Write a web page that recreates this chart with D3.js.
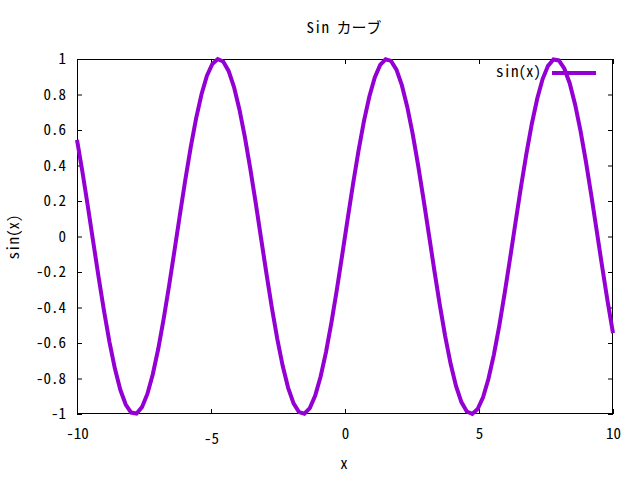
<!DOCTYPE html>
<html><head><meta charset="utf-8">
<script src="https://cdn.jsdelivr.net/npm/d3@7"></script>
<style>
html,body{margin:0;padding:0;background:#fff;}
text{font-family:"Noto Sans Mono CJK JP","Noto Sans CJK JP","DejaVu Sans Mono",monospace;font-size:15px;fill:#000;}
</style></head>
<body>
<svg id="c" width="640" height="480"></svg>
<script>
const xValues = [-10.0000,-9.7980,-9.5960,-9.3939,-9.1919,-8.9899,-8.7879,-8.5859,-8.3838,-8.1818,
-7.9798,-7.7778,-7.5758,-7.3737,-7.1717,-6.9697,-6.7677,-6.5657,-6.3636,-6.1616,
-5.9596,-5.7576,-5.5556,-5.3535,-5.1515,-4.9495,-4.7475,-4.5455,-4.3434,-4.1414,
-3.9394,-3.7374,-3.5354,-3.3333,-3.1313,-2.9293,-2.7273,-2.5253,-2.3232,-2.1212,
-1.9192,-1.7172,-1.5152,-1.3131,-1.1111,-0.9091,-0.7071,-0.5051,-0.3030,-0.1010,
0.1010,0.3030,0.5051,0.7071,0.9091,1.1111,1.3131,1.5152,1.7172,1.9192,
2.1212,2.3232,2.5253,2.7273,2.9293,3.1313,3.3333,3.5354,3.7374,3.9394,
4.1414,4.3434,4.5455,4.7475,4.9495,5.1515,5.3535,5.5556,5.7576,5.9596,
6.1616,6.3636,6.5657,6.7677,6.9697,7.1717,7.3737,7.5758,7.7778,7.9798,
8.1818,8.3838,8.5859,8.7879,8.9899,9.1919,9.3939,9.5960,9.7980,10.0000];
const sinValues = [0.5440,0.3646,0.1703,-0.0308,-0.2308,-0.4213,-0.5946,-0.7440,-0.8636,-0.9467,
-0.9921,-0.9971,-0.9615,-0.8868,-0.7762,-0.6339,-0.4658,-0.2787,-0.0804,0.1213,
0.3180,0.5018,0.6653,0.8016,0.9055,0.9720,0.9994,0.9861,0.9328,0.8415,
0.7159,0.5610,0.3836,0.1906,-0.0103,-0.2107,-0.4026,-0.5782,-0.7300,-0.8526,
-0.9399,-0.9892,-0.9984,-0.9670,-0.8960,-0.7890,-0.6497,-0.4839,-0.2984,-0.1008,
0.1008,0.2984,0.4839,0.6497,0.7890,0.8960,0.9670,0.9984,0.9892,0.9399,
0.8526,0.7300,0.5782,0.4026,0.2107,0.0103,-0.1906,-0.3836,-0.5610,-0.7159,
-0.8415,-0.9328,-0.9861,-0.9994,-0.9720,-0.9055,-0.8016,-0.6653,-0.5018,-0.3180,
-0.1213,0.0804,0.2787,0.4658,0.6339,0.7762,0.8868,0.9615,0.9971,0.9921,
0.9467,0.8636,0.7440,0.5946,0.4213,0.2308,0.0308,-0.1703,-0.3646,-0.5440];
const xTicks = [-10,-5,0,5,10];
const yTicks = [-1,-0.8,-0.6,-0.4,-0.2,0,0.2,0.4,0.6,0.8,1];
const titleText = "Sin カーブ";
const xLabel = "x";
const yLabel = "sin(x)";
const seriesName = "sin(x)";

const L=77,R=613,T=59,B=414;
const svg=d3.select("#c");
const x=d3.scaleLinear().domain([-10,10]).range([L,R]);
const y=d3.scaleLinear().domain([-1,1]).range([B,T]);
const fmt=d=>String(d);

// ticks (inward, mirrored)
const ax=[
 {g:d3.axisBottom(x).tickValues(xTicks).tickFormat(fmt).tickSize(-5).tickPadding(0), t:`translate(0,${B})`, lab:true},
 {g:d3.axisTop(x).tickValues(xTicks).tickFormat("").tickSize(-5), t:`translate(0,${T})`},
 {g:d3.axisLeft(y).tickValues(yTicks).tickFormat(fmt).tickSize(-5).tickPadding(11), t:`translate(${L},0)`, lab:true},
 {g:d3.axisRight(y).tickValues(yTicks).tickFormat("").tickSize(-5), t:`translate(${R},0)`}
];
ax.forEach((a,i)=>{
 const g=svg.append("g").attr("transform",a.t).call(a.g);
 g.select(".domain").remove();
 g.selectAll("line").attr("stroke","#000").attr("stroke-width",1);
 g.selectAll("text").attr("font-size",null).attr("fill","#000");
});
svg.selectAll("g").filter((d,i)=>i===0).selectAll("text").attr("y",25).attr("dy",null);
svg.selectAll("g").filter((d,i)=>i===2).selectAll("text").attr("dy","0.36em");
svg.selectAll("g").attr("font-family",null).attr("font-size",null);

// border
svg.append("rect").attr("x",L+0.5).attr("y",T+0.5).attr("width",R-L-1).attr("height",B-T-1)
 .attr("fill","none").attr("stroke","#000").attr("stroke-width",1);

// curve
const data=xValues.map((v,i)=>[v,sinValues[i]]);
svg.append("path").datum(data)
 .attr("d",d3.line().x(d=>x(d[0])).y(d=>y(d[1])))
 .attr("fill","none").attr("stroke","#9400d3").attr("stroke-width",4).attr("stroke-linejoin","miter");

// legend
svg.append("text").attr("x",541).attr("y",72).attr("dy","0.36em").attr("text-anchor","end").text(seriesName);
svg.append("line").attr("x1",552).attr("x2",596).attr("y1",73).attr("y2",73)
 .attr("stroke","#9400d3").attr("stroke-width",4);

// title and labels
svg.append("text").attr("x",344).attr("y",28).attr("dy","0.36em").attr("text-anchor","middle").text(titleText);
svg.append("text").attr("x",344).attr("y",464).attr("dy","0.36em").attr("text-anchor","middle").text(xLabel);
svg.append("text").attr("transform","translate(14,237) rotate(-90)").attr("dy","0.36em").attr("text-anchor","middle").text(yLabel);
</script>
</body></html>
